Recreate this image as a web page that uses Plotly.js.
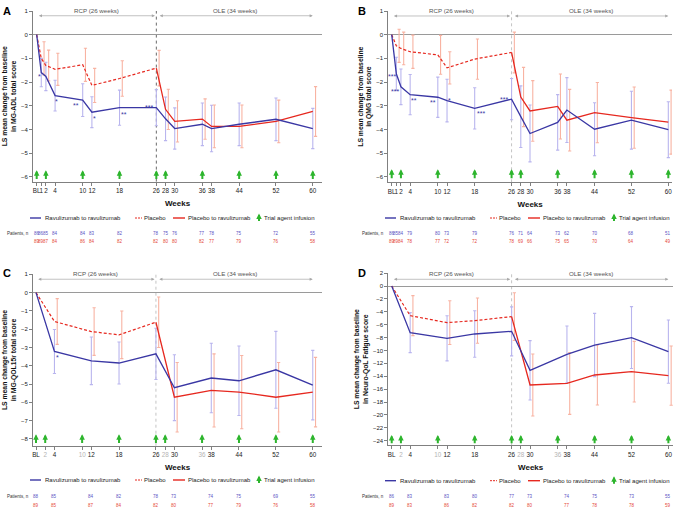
<!DOCTYPE html>
<html><head><meta charset="utf-8">
<script src="https://cdn.plot.ly/plotly-3.0.1.min.js"></script>
<style>html,body{margin:0;padding:0;background:#fff}#chart{width:677px;height:508px}</style>
</head><body><div id="chart"></div>
<script>
// ================= DATA =================
const weeksAB = [0,1,2,4,10,12,18,26,28,30,36,38,44,52,60];
const weeksCD = [0,4,12,18,26,30,38,44,52,60];
const rcpWeeksAB = [0,1,2,4,10,12,18,26];
const rcpWeeksCD = [0,4,12,18,26];
const oleWeeksAB = [26,28,30,36,38,44,52,60];
const oleWeeksCD = [26,30,38,44,52,60];
const infusionWeeks = [0,2,10,18,26,28,36,44,52,60];

const tickValsAB = [0,1,2,4,10,12,18,26,28,30,36,38,44,52,60];
const tickTextAB = ['BL','1','2','4','10','12','18','26','28','30','36','38','44','52','60'];
const tickValsCD = [0,2,4,10,12,18,26,28,30,36,38,44,52,60];
const tickTextCD = ['BL','2','4','10','12','18','26','28','30','36','38','44','52','60'];
const tickMutedCD = [false,true,false,true,false,false,false,true,false,true,false,false,false,false];

const seriesNames = ['Ravulizumab to ravulizumab','Placebo','Placebo to ravulizumab','Trial agent infusion'];
const periodLabels = ['RCP (26 weeks)','OLE (34 weeks)'];

// Panel A: MG-ADL
const ravA      = [0,-1.6,-1.76,-2.57,-2.76,-3.27,-3.08,-3.08,-3.55,-3.96,-3.78,-3.96,-3.78,-3.57,-3.96];
const ravErrA   = [0.6,0.6,0.65,0.69,0.65,0.74,0.76,0.92,0.87,0.9,0.98,0.9,0.9,0.85];
const placA     = [0,-1.0,-1.3,-1.46,-1.27,-2.14,-1.85,-1.41];
const placErrA  = [0.7,0.65,0.68,0.7,0.72,0.75,0.75];
const p2rA      = [-1.41,-3.15,-3.66,-3.56,-3.87,-3.87,-3.66,-3.24];
const p2rErrA   = [0.85,0.87,0.85,0.9,0.9,0.9,1.05];
const nRavA     = [86,86,85,84,84,83,82,78,75,76,77,78,75,72,55];
const nPlacA    = [89,89,87,84,86,84,82,82,80,80,82,77,79,76,58];
const starsXA   = [0.6,4.4,8.5,12.5,18.9,24.3];
const starsYA   = [-1.7,-2.72,-2.92,-3.45,-3.28,-3.0];
const starsTA   = ['*','*','**','*','**','***'];

// Panel B: QMG
const ravB      = [0,-1.65,-2.2,-2.53,-2.64,-2.78,-3.11,-2.72,-3.46,-4.17,-3.7,-3.18,-3.99,-3.61,-4.01];
const ravErrB   = [0.7,0.75,0.85,0.85,0.9,0.87,0.87,1.3,1.2,1.17,1.37,1.12,1.22,1.18];
const placB     = [0,-0.47,-0.58,-0.72,-0.85,-1.4,-1.03,-0.75];
const placErrB  = [0.7,0.69,0.7,0.82,0.68,0.85,0.86];
const p2rB      = [-0.75,-2.63,-3.22,-3.03,-3.61,-3.29,-3.5,-3.69];
const p2rErrB   = [1.25,1.28,1.37,1.3,1.27,1.29,1.35];
const nRavB     = [86,85,84,79,80,73,79,76,71,64,73,62,70,68,51];
const nPlacB    = [89,89,84,78,77,72,72,78,69,66,75,65,70,64,49];
const starsXB   = [0.1,0.8,4.8,8.9,12.5,19.3,24.4];
const starsYB   = [-1.68,-2.32,-2.68,-2.78,-2.68,-3.24,-2.66];
const starsTB   = ['***','***','**','**','*','***','***'];

// Panel C: MG-QOL15r
const ravC      = [0,-3.22,-3.73,-3.85,-3.35,-5.2,-4.67,-4.82,-4.22,-5.06];
const ravErrC   = [1.2,1.3,1.15,1.4,1.8,1.9,1.9,2.1,1.9];
const placC     = [0,-1.58,-2.13,-2.31,-1.62];
const placErrC  = [1.25,1.3,1.3,1.38];
const p2rC      = [-1.62,-5.72,-5.35,-5.44,-5.72,-5.44];
const p2rErrC   = [1.9,2.0,2.0,1.9,1.9];
const nRavC     = [88,85,84,82,78,73,74,75,69,55];
const nPlacC    = [89,85,87,84,82,80,77,79,76,58];
const starsXC   = [4.6];
const starsYC   = [-3.45];
const starsTC   = ['*'];

// Panel D: Neuro-QoL Fatigue
const ravD      = [0,-7.23,-8.11,-7.44,-7.03,-13.07,-10.6,-9.15,-8.0,-10.18];
const ravErrD   = [3.1,3.5,3.6,3.8,4.6,4.4,4.9,4.8,4.9];
const placD     = [0,-4.6,-5.68,-5.37,-4.75];
const placErrD  = [3.1,3.4,3.5,3.7];
const p2rD      = [-4.75,-15.35,-15.1,-13.8,-13.28,-13.9];
const p2rErrD   = [4.8,4.8,4.65,4.7,4.6];
const nRavD     = [86,83,83,80,77,73,74,75,73,55];
const nPlacD    = [89,83,86,82,82,80,77,78,78,59];
const starsXD   = [];
const starsYD   = [];
const starsTD   = [];

const yTitles = {
  A:'LS mean change from baseline<br>in MG-ADL total score',
  B:'LS mean change from baseline<br>in QMG total score',
  C:'LS mean change from baseline<br>in MG-QOL15r total score',
  D:'LS mean change from baseline<br>in Neuro-QoL Fatigue score'
};

// ================= STYLE =================
const COL = {rav:'#3a37a4', ravErr:'#b9b5ee', red:'#e6281f', redErr:'#f8b3a2',
             green:'#2db52d', axis:'#808080', zero:'#9a9a9a', nRav:'#5a52c4', nRed:'#e5483a'};
const FONT = 'Liberation Sans, Arial, sans-serif';
const W = 677, H = 508;
const px = v => v / W;
const py = v => 1 - v / H;

const panels = [
  {id:'A', xa:'x', ya:'y', xaKey:'xaxis', yaKey:'yaxis',
   weeks:weeksAB, rav:ravA, ravErr:ravErrA, rcpW:rcpWeeksAB, plac:placA, placErr:placErrA,
   oleW:oleWeeksAB, p2r:p2rA, p2rErr:p2rErrA, nRav:nRavA, nPlac:nPlacA,
   sx:starsXA, sy:starsYA, st:starsTA, tv:tickValsAB, tt:tickTextAB, muted:null,
   xDom:[33,322], yPx:[11,181.6], xRange:[-0.8,62], yRange:[-6.2,1], dtick:1,
   lvl:0.8, infHead:-5.72, infTail:-6.15, legY:218, rowY:[233.7,241.7], off:0, letterY:3, dotCol:'#6a6a6a'},
  {id:'B', xa:'x2', ya:'y2', xaKey:'xaxis2', yaKey:'yaxis2',
   weeks:weeksAB, rav:ravB, ravErr:ravErrB, rcpW:rcpWeeksAB, plac:placB, placErr:placErrB,
   oleW:oleWeeksAB, p2r:p2rB, p2rErr:p2rErrB, nRav:nRavB, nPlac:nPlacB,
   sx:starsXB, sy:starsYB, st:starsTB, tv:tickValsAB, tt:tickTextAB, muted:null,
   xDom:[388.3,672], yPx:[11,182.3], xRange:[-0.74,60.8], yRange:[-6.23,1], dtick:1,
   lvl:0.79, infHead:-5.68, infTail:-6.12, legY:218, rowY:[233.7,241.7], off:355, letterY:3, dotCol:'#c4c4c4'},
  {id:'C', xa:'x3', ya:'y3', xaKey:'xaxis3', yaKey:'yaxis3',
   weeks:weeksCD, rav:ravC, ravErr:ravErrC, rcpW:rcpWeeksCD, plac:placC, placErr:placErrC,
   oleW:oleWeeksCD, p2r:p2rC, p2rErr:p2rErrC, nRav:nRavC, nPlac:nPlacC,
   sx:starsXC, sy:starsYC, st:starsTC, tv:tickValsCD, tt:tickTextCD, muted:tickMutedCD,
   xDom:[33,322], yPx:[274.3,445.7], xRange:[-0.65,62], yRange:[-8.37,1], dtick:1,
   lvl:0.73, infHead:-7.75, infTail:-8.3, legY:480, rowY:[496.7,505], off:0, letterY:265, dotCol:'#c4c4c4'},
  {id:'D', xa:'x4', ya:'y4', xaKey:'xaxis4', yaKey:'yaxis4',
   weeks:weeksCD, rav:ravD, ravErr:ravErrD, rcpW:rcpWeeksCD, plac:placD, placErr:placErrD,
   oleW:oleWeeksCD, p2r:p2rD, p2rErr:p2rErrD, nRav:nRavD, nPlac:nPlacD,
   sx:starsXD, sy:starsYD, st:starsTD, tv:tickValsCD, tt:tickTextCD, muted:tickMutedCD,
   xDom:[388.3,673], yPx:[273.1,445.3], xRange:[-0.74,61], yRange:[-24.7,2], dtick:2,
   lvl:1.04, infHead:-23.1, infTail:-24.6, legY:480.7, rowY:[496.7,505], off:355, letterY:265, dotCol:'#c4c4c4'}
];

const traces = [];
const annotations = [];
const shapes = [];
const layout = {
  width:W, height:H, margin:{l:0,r:0,t:0,b:0,pad:0},
  paper_bgcolor:'#fff', plot_bgcolor:'#fff', showlegend:false,
  font:{family:FONT, size:6, color:'#222'}
};

const ERR_SHIFT_RED = 0.6;

panels.forEach(p => {
  const common = {xaxis:p.xa, yaxis:p.ya, hoverinfo:'skip', showlegend:false};
  // error bars (under lines)
  traces.push(Object.assign({type:'scatter', mode:'markers',
    x:p.weeks.slice(1), y:p.rav.slice(1), marker:{size:1,color:'rgba(0,0,0,0)'},
    error_y:{type:'data', array:p.ravErr, color:COL.ravErr, thickness:1.1, width:1.6}}, common));
  traces.push(Object.assign({type:'scatter', mode:'markers',
    x:p.rcpW.slice(1).map(w=>w+ERR_SHIFT_RED), y:p.plac.slice(1), marker:{size:1,color:'rgba(0,0,0,0)'},
    error_y:{type:'data', array:p.placErr, color:COL.redErr, thickness:1.1, width:1.6}}, common));
  traces.push(Object.assign({type:'scatter', mode:'markers',
    x:p.oleW.slice(1).map(w=>w+ERR_SHIFT_RED), y:p.p2r.slice(1), marker:{size:1,color:'rgba(0,0,0,0)'},
    error_y:{type:'data', array:p.p2rErr, color:COL.redErr, thickness:1.1, width:1.6}}, common));
  // lines
  traces.push(Object.assign({type:'scatter', mode:'lines', name:seriesNames[2], x:p.oleW, y:p.p2r,
    line:{color:COL.red, width:1.3}}, common));
  traces.push(Object.assign({type:'scatter', mode:'lines', name:seriesNames[1], x:p.rcpW, y:p.plac,
    line:{color:COL.red, width:1.2, dash:'3px,2px'}}, common));
  traces.push(Object.assign({type:'scatter', mode:'lines', name:seriesNames[0], x:p.weeks, y:p.rav,
    line:{color:COL.rav, width:1.3}}, common));

  // axes
  const ticktext = p.tt.map((t,i) => (p.muted && p.muted[i]) ? '<span style="color:#b4b4b4">'+t+'</span>' : t);
  layout[p.xaKey] = {
    domain:[px(p.xDom[0]), px(p.xDom[1])], range:p.xRange, anchor:p.ya,
    tickmode:'array', tickvals:p.tv, ticktext:ticktext, tickangle:0,
    showline:true, linecolor:COL.axis, linewidth:1, ticks:'outside', ticklen:3, tickcolor:COL.axis,
    tickfont:{size:6.3, color:'#222'}, showgrid:false, zeroline:false, fixedrange:true,
    title:{text:'<b>Weeks</b>', font:{size:8, color:'#111'}, standoff:7}
  };
  layout[p.yaKey] = {
    domain:[py(p.yPx[1]), py(p.yPx[0])], range:p.yRange, anchor:p.xa, dtick:p.dtick, tick0:0,
    showline:true, linecolor:COL.axis, linewidth:1, ticks:'outside', ticklen:3, tickcolor:COL.axis,
    tickfont:{size:6, color:'#222'}, showgrid:false,
    zeroline:true, zerolinecolor:COL.zero, zerolinewidth:1, fixedrange:true,
    title:{text:'<b>'+yTitles[p.id]+'</b>', font:{size:6.8, color:'#111'}, standoff:3}
  };

  // week-26 end of RCP dotted line
  shapes.push({type:'line', xref:p.xa, yref:p.ya+' domain', x0:p.rcpW[p.rcpW.length-1], x1:p.rcpW[p.rcpW.length-1], y0:0, y1:1,
    line:{color:p.dotCol, width:1, dash:'dot'}, layer:'below'});

  // period arrows and labels
  const lastRcp = p.rcpW[p.rcpW.length-1], lastWk = p.weeks[p.weeks.length-1];
  [[0.15, lastRcp-0.3],[lastRcp+0.4, lastWk]].forEach((seg,i) => {
    annotations.push({xref:p.xa, yref:p.ya, axref:p.xa, ayref:p.ya, x:seg[1], y:p.lvl, ax:seg[0], ay:p.lvl,
      text:'', showarrow:true, arrowside:'end+start', arrowhead:2, startarrowhead:2,
      arrowsize:0.9, startarrowsize:0.9, arrowwidth:0.7, arrowcolor:'#a8a8a8', standoff:0, startstandoff:0});
    annotations.push({xref:p.xa, yref:p.ya, x:(seg[0]+seg[1])/2, y:p.lvl, yanchor:'bottom', yshift:0,
      text:periodLabels[i], showarrow:false, font:{size:6.2, color:'#555'}});
  });

  // infusion arrows
  infusionWeeks.forEach(w => {
    annotations.push({xref:p.xa, yref:p.ya, axref:p.xa, ayref:p.ya, x:w, y:p.infHead, ax:w, ay:p.infTail,
      text:'', showarrow:true, arrowhead:2, arrowsize:0.55, arrowwidth:2, arrowcolor:COL.green, standoff:0});
  });

  // significance stars
  p.st.forEach((t,i) => {
    annotations.push({xref:p.xa, yref:p.ya, x:p.sx[i], y:p.sy[i], text:t, showarrow:false, yshift:-2,
      font:{size:7, color:COL.rav}});
  });

  // panel letter
  annotations.push({xref:'paper', yref:'paper', x:px(1+p.off), y:py(p.letterY), xanchor:'left', yanchor:'top',
    text:'<b>'+p.id+'</b>', showarrow:false, font:{size:11, color:'#000'}});

  // patients rows
  annotations.push({xref:'paper', yref:'paper', x:px(31+p.off), y:py(p.rowY[0]), xanchor:'right', yanchor:'middle',
    text:'Patients, n', showarrow:false, font:{size:4.5, color:'#333'}});
  p.weeks.forEach((w,i) => {
    annotations.push({xref:p.xa, yref:'paper', x:w, y:py(p.rowY[0]), yanchor:'middle', text:String(p.nRav[i]),
      showarrow:false, font:{size:4.5, color:COL.nRav}, borderpad:0});
    annotations.push({xref:p.xa, yref:'paper', x:w, y:py(p.rowY[1]), yanchor:'middle', text:String(p.nPlac[i]),
      showarrow:false, font:{size:4.5, color:COL.nRed}, borderpad:0});
  });

  // legend (manual, compact keys)
  const ly = py(p.legY), o = p.off;
  shapes.push({type:'line', xref:'paper', yref:'paper', x0:px(30+o), x1:px(41+o), y0:ly, y1:ly, line:{color:COL.rav, width:1.4}});
  shapes.push({type:'line', xref:'paper', yref:'paper', x0:px(135+o), x1:px(142+o), y0:ly, y1:ly, line:{color:COL.red, width:1, dash:'2px,1px'}});
  shapes.push({type:'line', xref:'paper', yref:'paper', x0:px(173+o), x1:px(185+o), y0:ly, y1:ly, line:{color:COL.red, width:1.4}});
  annotations.push({xref:'paper', yref:'paper', x:px(259+o), y:py(p.legY-4.5), ax:0, ay:9, text:'', showarrow:true,
    arrowhead:2, arrowsize:0.55, arrowwidth:2, arrowcolor:COL.green, standoff:0});
  [[44,0],[143,1],[187,2],[263,3]].forEach(([lx,k]) => {
    annotations.push({xref:'paper', yref:'paper', x:px(lx+o), y:ly, xanchor:'left', yanchor:'middle',
      text:seriesNames[k], showarrow:false, font:{size:6, color:'#222'}, borderpad:0});
  });
});

layout.annotations = annotations;
layout.shapes = shapes;
Plotly.newPlot('chart', traces, layout, {displayModeBar:false, staticPlot:true});
</script>
</body></html>
